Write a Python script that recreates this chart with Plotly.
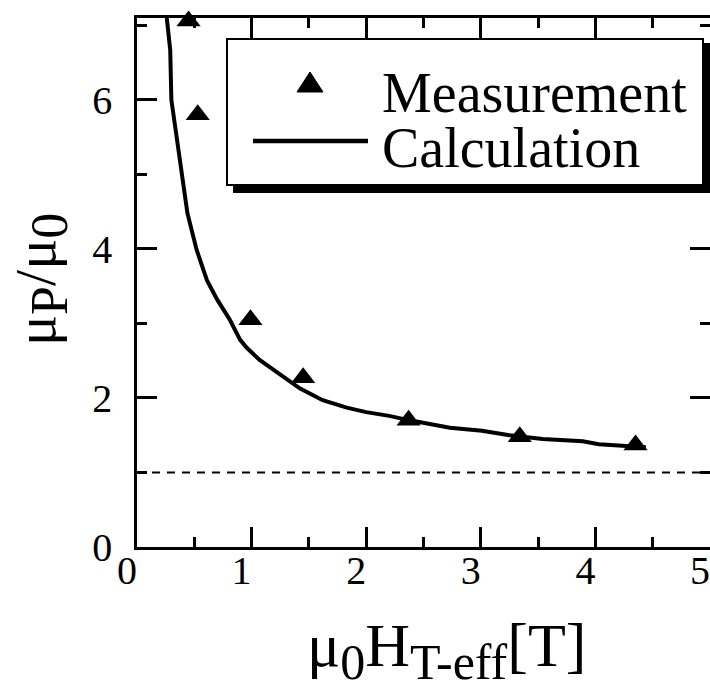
import plotly.graph_objects as go

# ---- data ----
meas_x = [0.45, 0.53, 0.99, 1.45, 2.37, 3.34, 4.35]
meas_y = [7.06, 5.80, 3.05, 2.27, 1.70, 1.48, 1.37]

calc_x = [0.26, 0.29, 0.30, 0.35, 0.39, 0.44, 0.52, 0.61, 0.70, 0.81, 0.90, 0.96,
          1.07, 1.19, 1.31, 1.42, 1.62, 1.83, 2.00, 2.20, 2.38, 2.73, 3.01, 3.25,
          3.54, 3.89, 4.03, 4.44]
calc_y = [7.10, 6.67, 6.00, 5.46, 4.97, 4.48, 3.99, 3.58, 3.32, 3.05, 2.78, 2.67,
          2.51, 2.38, 2.24, 2.13, 1.97, 1.87, 1.81, 1.76, 1.70, 1.60, 1.56, 1.50,
          1.45, 1.42, 1.38, 1.34]

ref_x = [0, 5]
ref_y = [1, 1]

x_ticks = [0, 1, 2, 3, 4, 5]
y_ticks = [0, 2, 4, 6]

legend_labels = ["Measurement", "Calculation"]
x_title = ("μ<sub><span style='font-size:50px'>0</span></sub>H"
           "<sub><span style='font-size:50px'>T-eff</span></sub>[T]")
y_title = ("μ<sub><span style='font-size:52px'>P</span></sub>/μ"
           "<sub><span style='font-size:52px'>0</span></sub>")

# ---- layout geometry (pixels) ----
W, H = 710, 684
L, R, T, B = 137, 0, 18, 137
pw, ph = W - L - R, H - T - B

def px(xp):
    return (xp - L) / pw

def py(yp):
    return (H - B - yp) / ph

FONT = "Liberation Serif, Times New Roman, serif"

fig = go.Figure()
fig.add_trace(go.Scatter(x=ref_x, y=ref_y, mode="lines",
                         line=dict(color="black", width=2, dash="8px,7px"),
                         showlegend=False, hoverinfo="skip"))
fig.add_trace(go.Scatter(x=calc_x, y=calc_y, mode="lines",
                         line=dict(color="black", width=4),
                         name=legend_labels[1], showlegend=False))
fig.add_trace(go.Scatter(x=meas_x, y=meas_y, mode="markers",
                         marker=dict(symbol="triangle-up", size=21, color="black"),
                         name=legend_labels[0], showlegend=False, cliponaxis=False))
# empty trace so the right-hand tick-only axis is drawn
fig.add_trace(go.Scatter(x=[], y=[], yaxis="y2", showlegend=False, hoverinfo="skip"))

tick_style = dict(ticks="inside", tickcolor="black", tickwidth=2.5, ticklen=20,
                  showgrid=False, zeroline=False, automargin=False)

fig.update_layout(
    xaxis=dict(range=[0, 5], tickvals=x_ticks, ticktext=[str(v) for v in x_ticks],
               showline=True, linecolor="black", linewidth=2.5, mirror="ticks",
               ticklabelshift=-10, ticklabelstandoff=-14, ticklabeloverflow="allow",
               tickfont=dict(family=FONT, size=40, color="black"),
               minor=dict(dtick=0.5, ticks="inside", ticklen=10, tickwidth=2.5,
                          tickcolor="black"),
               **tick_style),
    yaxis=dict(range=[0, 7.1], tickvals=y_ticks, ticktext=[str(v) for v in y_ticks],
               showline=True, linecolor="black", linewidth=2.5, mirror=False,
               ticklabelstandoff=14,
               tickfont=dict(family=FONT, size=40, color="black"),
               minor=dict(dtick=1, ticks="inside", ticklen=10, tickwidth=2.5,
                          tickcolor="black"),
               **tick_style),
    yaxis2=dict(overlaying="y", side="right", anchor="x", matches="y",
                range=[0, 7.1], tickvals=y_ticks, showticklabels=False,
                showline=False,
                minor=dict(dtick=1, ticks="inside", ticklen=10, tickwidth=2.5,
                           tickcolor="black"),
                **tick_style),
)

shapes = []
# legend shadow
shapes.append(dict(type="rect", xref="paper", yref="paper",
                   x0=px(233), x1=px(711), y0=py(193), y1=py(43),
                   fillcolor="black", line=dict(width=0), layer="above"))
# legend box
shapes.append(dict(type="rect", xref="paper", yref="paper",
                   x0=px(227), x1=px(703), y0=py(185), y1=py(39),
                   fillcolor="white", line=dict(color="black", width=2), layer="above"))
# legend line sample
shapes.append(dict(type="line", xref="paper", yref="paper",
                   x0=px(253), x1=px(368), y0=py(141), y1=py(141),
                   line=dict(color="black", width=4.5), layer="above"))
# legend triangle sample
tx, ty, tw, th = 310, 72, 26, 20
shapes.append(dict(type="path", xref="paper", yref="paper",
                   path=f"M {px(tx - tw/2)} {py(ty + th)} L {px(tx + tw/2)} {py(ty + th)} L {px(tx)} {py(ty)} Z",
                   fillcolor="black", line=dict(color="black", width=1), layer="above"))

annotations = [
    dict(text=legend_labels[0], xref="paper", yref="paper", x=px(380), y=py(93),
         xanchor="left", yanchor="middle", showarrow=False,
         font=dict(family=FONT, size=56, color="black")),
    dict(text=legend_labels[1], xref="paper", yref="paper", x=px(380), y=py(148),
         xanchor="left", yanchor="middle", showarrow=False,
         font=dict(family=FONT, size=56, color="black")),
    dict(text=x_title, xref="paper", yref="paper", x=px(446), y=py(650),
         xanchor="center", yanchor="middle", showarrow=False,
         font=dict(family=FONT, size=62, color="black")),
    dict(text=y_title, xref="paper", yref="paper", x=px(40), y=py(280),
         xanchor="center", yanchor="middle", showarrow=False, textangle=-90,
         font=dict(family=FONT, size=58, color="black")),
]

fig.update_layout(width=W, height=H, margin=dict(l=L, r=R, t=T, b=B, autoexpand=False),
                  autosize=False,
                  plot_bgcolor="white", paper_bgcolor="white",
                  shapes=shapes, annotations=annotations, showlegend=False)

fig.write_html("out.html", config={"displayModeBar": False, "responsive": False},
               post_script="document.body.style.margin='0';document.body.style.overflow='hidden';")
